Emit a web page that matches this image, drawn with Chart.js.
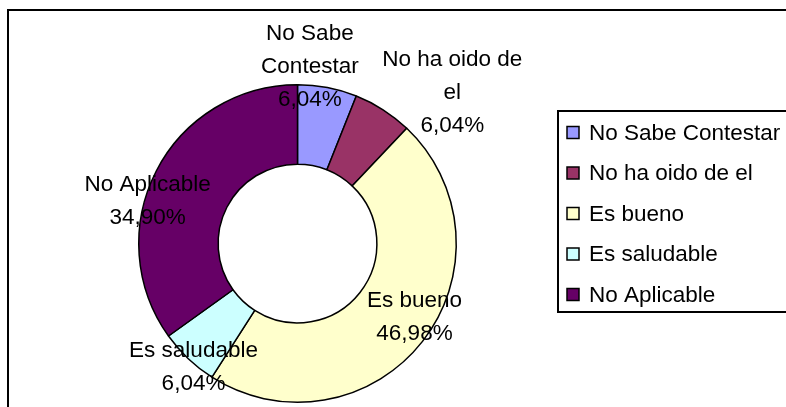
<!DOCTYPE html>
<html>
<head>
<meta charset="utf-8">
<script src="https://cdn.jsdelivr.net/npm/chart.js@4.4.1/dist/chart.umd.min.js"></script>
<style>
  html, body { margin: 0; padding: 0; background: #ffffff; }
  #wrap { position: relative; width: 786px; height: 407px; }
  canvas { display: block; }
</style>
</head>
<body>
<div id="wrap"><canvas id="c" width="786" height="407"></canvas></div>
<script>
// ---- data ----
const categories = ["No Sabe Contestar", "No ha oido de el", "Es bueno", "Es saludable", "No Aplicable"];
const values = [6.04, 6.04, 46.98, 6.04, 34.90];
const labelLines = [["No Sabe", "Contestar"], ["No ha oido de", "el"], ["Es bueno"], ["Es saludable"], ["No Aplicable"]];
const colors = ["#9999FF", "#993366", "#FFFFCC", "#CCFFFF", "#660066"];

// label placement relative to doughnut centre, in units of outer radius (style only)
const labelOffsets = [[0.078, -1.112], [0.975, -0.95], [0.737, 0.465], [-0.655, 0.778], [-0.944, -0.265]];

const FONT = '22.5px "Liberation Sans", Arial, sans-serif';
const LINE_H = 33;

function fmtPct(v) { return v.toFixed(2).replace('.', ',') + '%'; }

const framePlugin = {
  id: 'frame',
  beforeDraw(chart) {
    const ctx = chart.ctx;
    ctx.save();
    ctx.fillStyle = '#ffffff';
    ctx.fillRect(0, 0, chart.width, chart.height);
    ctx.strokeStyle = '#000000';
    ctx.lineWidth = 2;
    ctx.strokeRect(8, 10, 820, 440);
    ctx.restore();
  }
};

const labelPlugin = {
  id: 'pieLabels',
  afterDatasetsDraw(chart) {
    const ctx = chart.ctx;
    const meta = chart.getDatasetMeta(0);
    ctx.save();
    ctx.font = FONT;
    ctx.fillStyle = '#000000';
    ctx.textAlign = 'center';
    ctx.textBaseline = 'middle';
    meta.data.forEach((arc, i) => {
      const p = arc.getProps(['x', 'y', 'outerRadius'], true);
      const cx = p.x + labelOffsets[i][0] * p.outerRadius;
      const cy = p.y + labelOffsets[i][1] * p.outerRadius;
      const lines = labelLines[i].concat([fmtPct(chart.data.datasets[0].data[i])]);
      const y0 = cy - (lines.length - 1) * LINE_H / 2;
      lines.forEach((t, k) => ctx.fillText(t, cx, y0 + k * LINE_H));
    });
    ctx.restore();
  }
};

const legendPlugin = {
  id: 'boxLegend',
  afterDraw(chart) {
    const ctx = chart.ctx;
    const bx = 558, by = 111, bw = 260, bh = 201;
    ctx.save();
    ctx.strokeStyle = '#000000';
    ctx.lineWidth = 2;
    ctx.strokeRect(bx, by, bw, bh);
    ctx.font = FONT;
    ctx.textAlign = 'left';
    ctx.textBaseline = 'middle';
    const ds = chart.data.datasets[0];
    chart.data.labels.forEach((lab, i) => {
      const yc = 132.5 + i * 40.5;
      ctx.fillStyle = ds.backgroundColor[i];
      ctx.fillRect(567, yc - 6, 12, 12);
      ctx.lineWidth = 1.5;
      ctx.strokeStyle = '#000000';
      ctx.strokeRect(567, yc - 6, 12, 12);
      ctx.fillStyle = '#000000';
      ctx.fillText(lab, 589, yc + 1);
    });
    ctx.restore();
  }
};

new Chart(document.getElementById('c'), {
  type: 'doughnut',
  data: {
    labels: categories,
    datasets: [{
      data: values,
      backgroundColor: colors,
      borderColor: '#000000',
      borderWidth: 1.5,
      borderAlign: 'center'
    }]
  },
  options: {
    responsive: false,
    animation: false,
    cutout: '50%',
    layout: { padding: { left: 138, right: 329, top: 84, bottom: 4 } },
    plugins: {
      legend: { display: false },
      tooltip: { enabled: false }
    }
  },
  plugins: [framePlugin, labelPlugin, legendPlugin]
});
</script>
</body>
</html>
